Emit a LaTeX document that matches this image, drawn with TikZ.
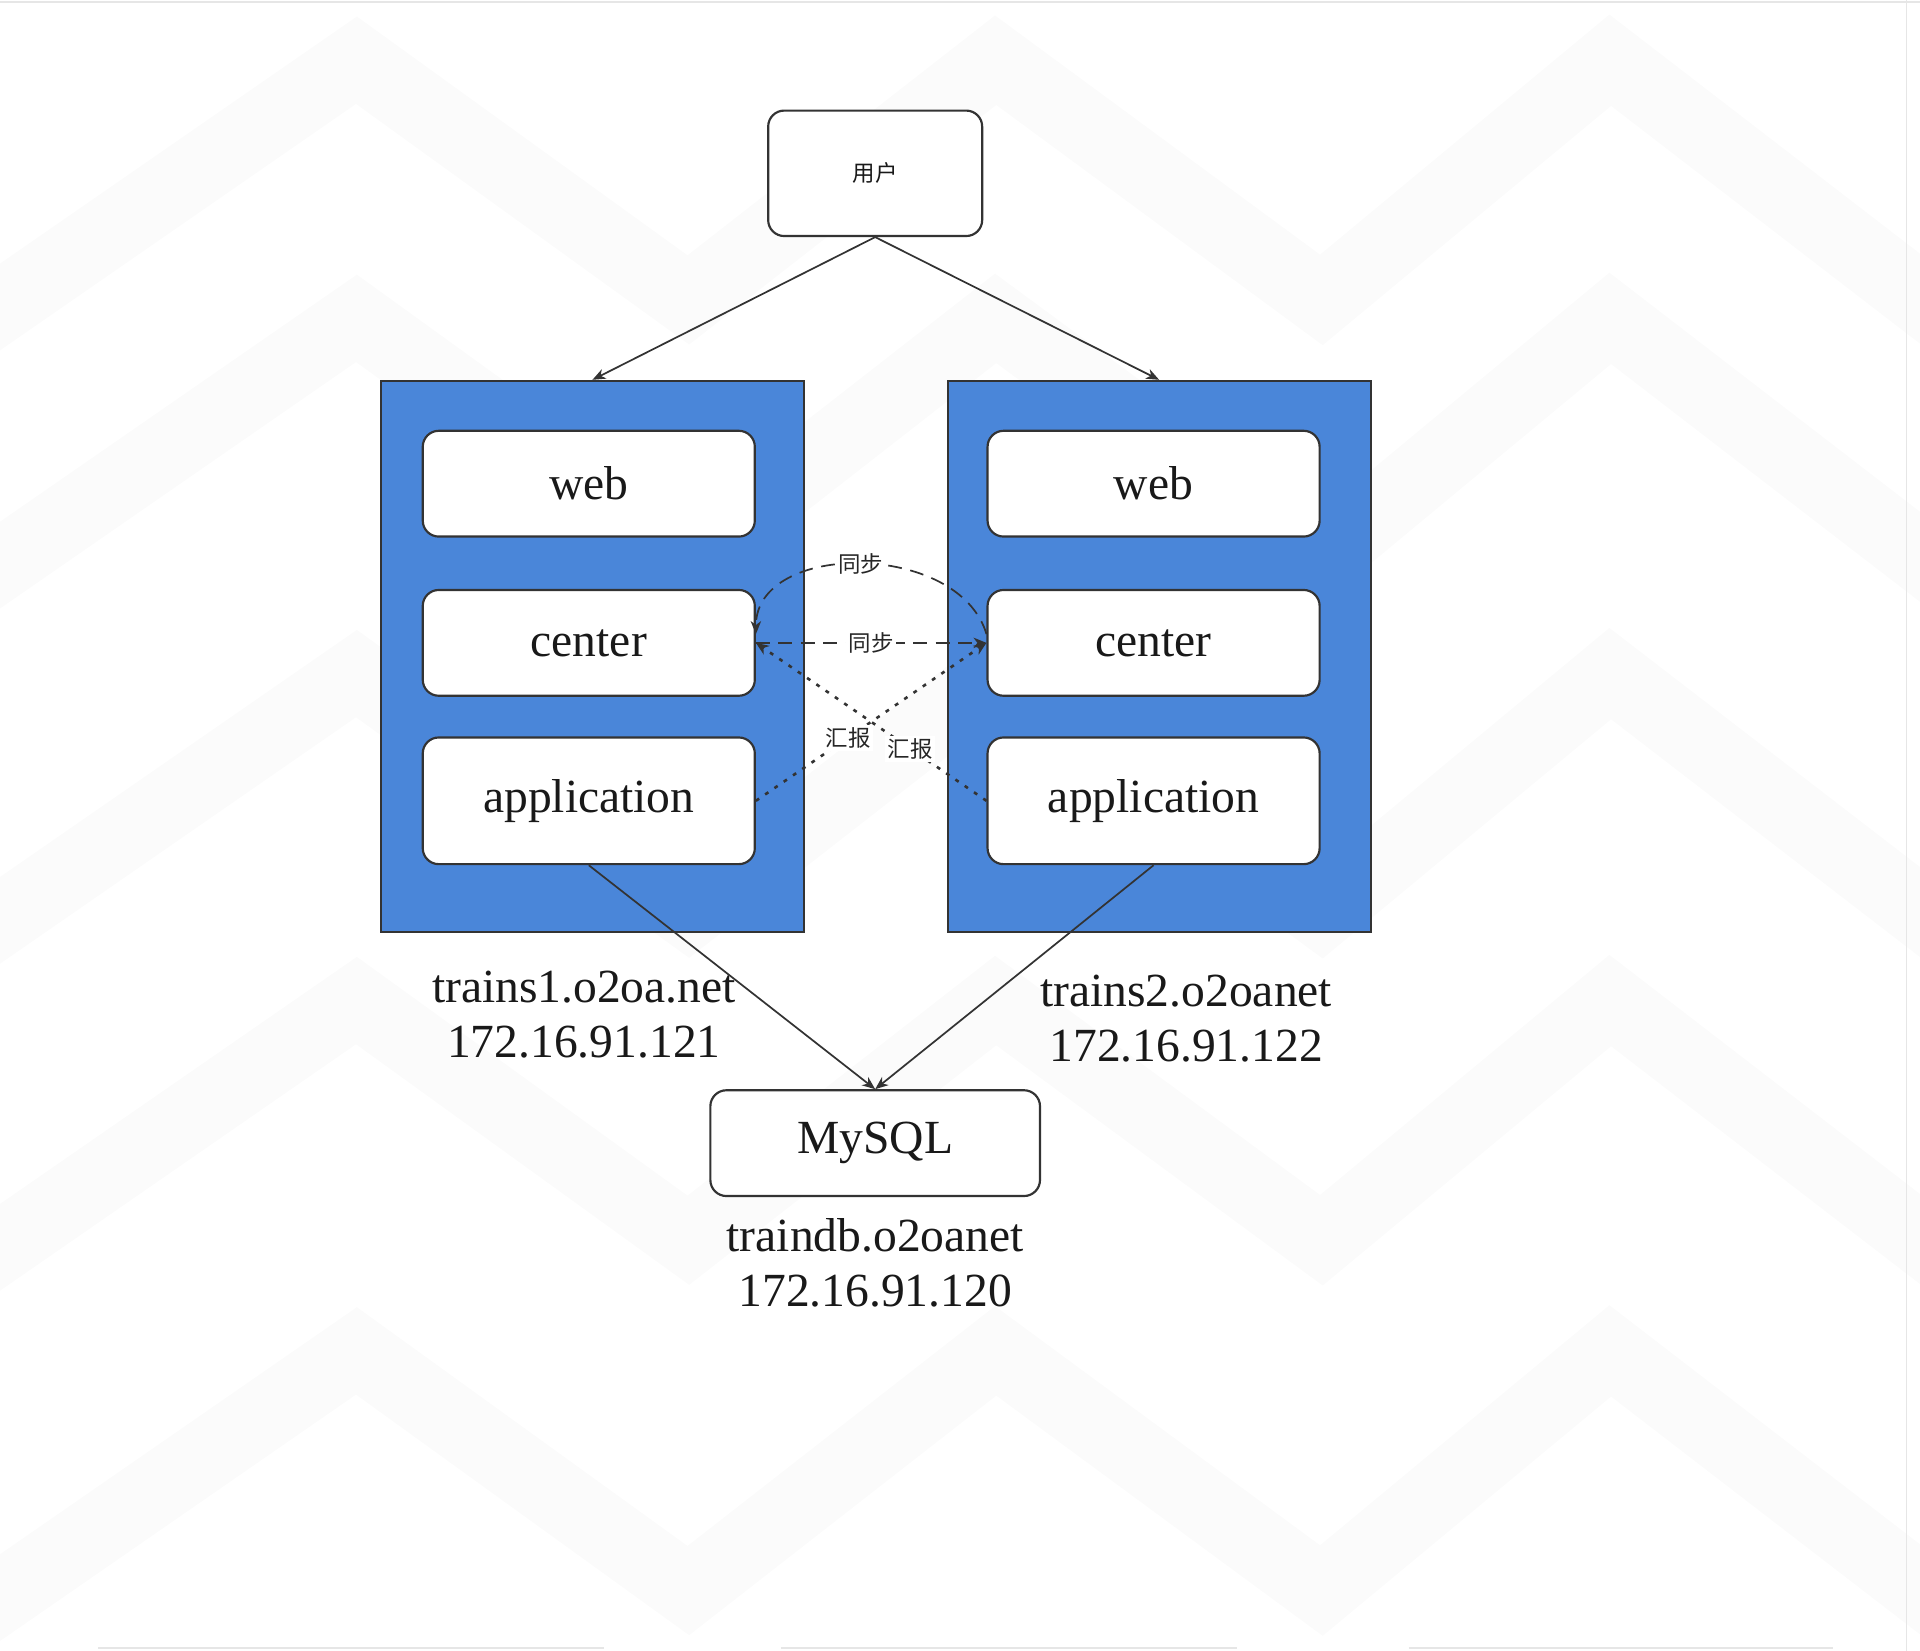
\documentclass[tikz,border=0pt]{standalone}
\usepackage{fontspec}
\setmainfont{Liberation Serif}
\newfontfamily\cjk{Noto Sans CJK SC}
\usetikzlibrary{positioning,arrows.meta}
\tikzset{>={Stealth[length=3pt,width=2.4pt,inset=0.9pt]}}
\definecolor{hostblue}{RGB}{74,134,217}
\definecolor{linegray}{RGB}{51,51,51}
\definecolor{stripegray}{RGB}{251,251,251}
\definecolor{framegray}{RGB}{230,230,230}

\begin{document}
\begin{tikzpicture}[x=0.01cm,y=-0.01cm]
    \tikzset{
    host/.style={draw=linegray, line width=0.5pt, fill=hostblue, minimum width=3.44cm, minimum height=4.48cm, inner sep=0pt},
    service/.style={draw=linegray, line width=0.5pt, fill=white, rounded corners=0.13cm, minimum width=2.7cm, minimum height=0.86cm, inner sep=0pt, text=black!90, font=\fontsize{11}{13}\selectfont},
    caption/.style={align=center, text=black!90, font=\fontsize{11}{12.8}\selectfont},
    tag/.style={fill=white, inner sep=0.6pt, text=black!85, font=\cjk\fontsize{5.2}{6}\selectfont},
    link/.style={draw=linegray, ->},
    sync/.style={link, dash pattern=on 3.2pt off 2pt},
    report/.style={link, line width=0.6pt, dash pattern=on 0.9pt off 1.7pt},
    stripe/.style={stripegray, line width=16.5pt, line join=miter},
    }

    \useasboundingbox (0,0) rectangle (1562,1343);

    % Background stripes.
    \begin{scope}
      \clip (0,0) rectangle (1562,1343);
      \foreach \a in {49,259,548,814,1099}
        \draw [stripe] (-100,\a+270) -- (290,\a) -- (560,\a+195) -- (810,\a) -- (1075,\a+195) -- (1310,\a) -- (1562,\a+194) -- (1700,\a+300);
    \end{scope}
    \draw [framegray] (0,1.5) -- (1562,1.5);
    \draw [framegray] (1551,0) -- (1551,1343);
    \foreach \x/\xx in {80/491,635/1006,1146/1491}
      \draw [framegray] (\x,1341) -- (\xx,1341);

    % Hosts.
    \path (482,534) node [host] (h1) {};
    \path (943,534) node [host] (h2) {};

    % Services on each host.
    \path (479,393.5)   node [service] (w1) {web};
    \path (479,523)     node [service] (c1) {center};
    \path (479,651.5)   node [service, minimum height=1.03cm] (a1) {application};
    \path (938.5,393.5) node [service] (w2) {web};
    \path (938.5,523)   node [service] (c2) {center};
    \path (938.5,651.5) node [service, minimum height=1.03cm] (a2) {application};

    % User and database.
    \path (712,141) node [service, minimum width=1.74cm, minimum height=1.02cm, font=\cjk\fontsize{5.2}{6}\selectfont] (user) {用户};
    \path (712,930) node [service, minimum width=2.68cm] (db) {MySQL};

    % Host names.
    \path (475,825.5)  node [caption] (h1name) {trains1.o2oa.net\\172.16.91.121};
    \path (965,828.5)  node [caption] (h2name) {trains2.o2oanet\\172.16.91.122};
    \path (712,1027.5) node [caption] (dbname) {traindb.o2oanet\\172.16.91.120};

    % Connections.
    \draw [link] (user.south) -- (h1.north);
    \draw [link] (user.south) -- (h2.north);
    \draw [link] (a1.south) -- (db.north);
    \draw [link] (a2.south) -- (db.north);

    \draw [sync] (c1.east) -- node [tag] {同步} (c2.west);
    \draw [sync] (c2.177) .. controls (780,440) and (615,440) .. node [tag] {同步} (c1.3);
    \draw [report] (a1.east) -- node [tag, pos=0.4] {汇报} (c2.west);
    \draw [report] (a2.west) -- node [tag, pos=0.33] {汇报} (c1.east);
\end{tikzpicture}
\end{document}
